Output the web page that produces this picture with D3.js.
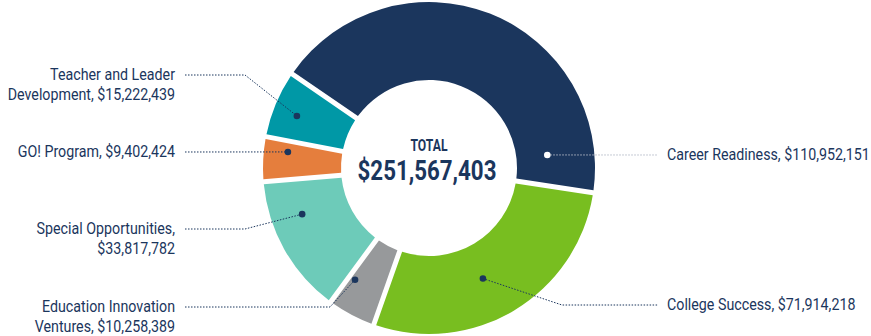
<!DOCTYPE html>
<html>
<head>
<meta charset="utf-8">
<script src="https://cdn.jsdelivr.net/npm/d3@7/dist/d3.min.js"></script>
<style>
  body { margin: 0; background: #fff; }
  svg text { font-family: "Roboto", "Liberation Sans", sans-serif; fill: #1b365d; }
</style>
</head>
<body>
<svg id="chart" width="871" height="336"></svg>
<script>
// budget by program, clockwise from upper left
var categories = ['Career Readiness', 'College Success', 'Education Innovation Ventures',
                  'Special Opportunities', 'GO! Program', 'Teacher and Leader Development'];
var amounts = [110952151, 71914218, 10258389, 33817782, 9402424, 15222439];
var colors = ['#1b365d', '#78be20', '#97999b', '#6dcbb9', '#e57e3d', '#0098a6'];
var totalLabel = 'TOTAL';

// label lines (text) and where the leader lines go
var labelLines = [
  ['Career Readiness, $110,952,151'],
  ['College Success, $71,914,218'],
  ['Education Innovation', 'Ventures, $10,258,389'],
  ['Special Opportunities,', '$33,817,782'],
  ['GO! Program, $9,402,424'],
  ['Teacher and Leader', 'Development, $15,222,439']
];
var layout = [
  {side: 'right', y: 155, dotAngle: 83.7, dotR: 119, elbowX: null, elbowY: null},
  {side: 'right', y: 305, dotAngle: 154, dotR: 123, elbowX: 562, elbowY: 305},
  {side: 'left', y: 307, dotAngle: 213.5, dotR: 134, elbowX: 330, elbowY: 307},
  {side: 'left', y: 229, dotAngle: 250, dotR: 135, elbowX: 245, elbowY: 229},
  {side: 'left', y: 152, dotAngle: 276.5, dotR: 142, elbowX: null, elbowY: null},
  {side: 'left', y: 75, dotAngle: 291.5, dotR: 142, elbowX: 245, elbowY: 75}
];

var svg = d3.select('#chart');
var cx = 429, cy = 168;
var outerR = 166, innerR = 88;
var startDeg = -55.5;

var data = categories.map(function(c, i) {
  return {name: c, value: amounts[i], color: colors[i], lines: labelLines[i], lay: layout[i]};
});
var total = d3.sum(amounts);

var pie = d3.pie()
  .value(function(d) { return d.value; })
  .sort(null)
  .startAngle(startDeg * Math.PI / 180)
  .endAngle((startDeg + 360) * Math.PI / 180)
  .padAngle(0.05);

var arc = d3.arc()
  .innerRadius(innerR)
  .outerRadius(outerR)
  .padRadius(100);

var g = svg.append('g').attr('transform', 'translate(' + cx + ',' + cy + ')');

g.selectAll('path.slice')
  .data(pie(data))
  .enter().append('path')
  .attr('class', 'slice')
  .attr('d', arc)
  .attr('fill', function(d) { return d.data.color; });

// polar -> xy (clockwise from 12 o'clock)
var polar = function(deg, r) {
  var a = deg * Math.PI / 180;
  return [cx + r * Math.sin(a), cy - r * Math.cos(a)];
};

// squeeze text horizontally around its anchor x (the original uses a condensed face)
var condense = function(sel, x, k) {
  sel.attr('transform', 'translate(' + x + ',0) scale(' + k + ',1) translate(' + (-x) + ',0)');
};

var leftTextX = 175, leftLineX = 185;
var rightTextX = 667, rightLineX = 658;
var lineH = 20;
var labelK = null;

data.forEach(function(d, i) {
  var lay = d.lay;
  var dot = polar(lay.dotAngle, lay.dotR);
  var pts = [];
  if (lay.side === 'left') {
    pts.push([leftLineX, lay.y]);
    if (lay.elbowX !== null) pts.push([lay.elbowX, lay.elbowY]);
    pts.push(dot);
  } else {
    pts.push(dot);
    if (lay.elbowX !== null) pts.push([lay.elbowX, lay.elbowY]);
    pts.push([rightLineX, lay.y]);
  }
  var onDark = (i === 0);
  svg.append('path')
    .attr('d', d3.line()(pts))
    .attr('fill', 'none')
    .attr('stroke', onDark ? '#b3b9c6' : '#1b365d')
    .attr('stroke-width', 1)
    .attr('stroke-dasharray', '1.5,1.5');

  svg.append('circle')
    .attr('cx', dot[0])
    .attr('cy', dot[1])
    .attr('r', 3.3)
    .attr('fill', onDark ? '#fff' : '#1b365d');

  var tx = lay.side === 'left' ? leftTextX : rightTextX;
  var t = svg.append('text')
    .attr('x', tx)
    .attr('text-anchor', lay.side === 'left' ? 'end' : 'start')
    .style('font-size', '16px');
  d.lines.forEach(function(line, j) {
    t.append('tspan')
      .attr('x', tx)
      .attr('y', lay.y + 5.5 + j * lineH)
      .text(line);
  });
  // the Career label is 203px wide in the original; use it to set the squeeze
  if (labelK === null) labelK = 203 / t.node().getComputedTextLength();
  condense(t, tx, labelK);
});

// centre total
var tTotal = svg.append('text')
  .attr('x', cx)
  .attr('y', cy - 17)
  .attr('text-anchor', 'middle')
  .style('font-size', '17px')
  .style('font-weight', 'bold')
  .text(totalLabel);
condense(tTotal, cx, 37 / tTotal.node().getComputedTextLength());

var tSum = svg.append('text')
  .attr('x', cx - 2)
  .attr('y', cy + 12)
  .attr('text-anchor', 'middle')
  .style('font-size', '28px')
  .style('font-weight', 'bold')
  .text('$' + d3.format(',')(total));
condense(tSum, cx - 2, 139 / tSum.node().getComputedTextLength());
</script>
</body>
</html>
